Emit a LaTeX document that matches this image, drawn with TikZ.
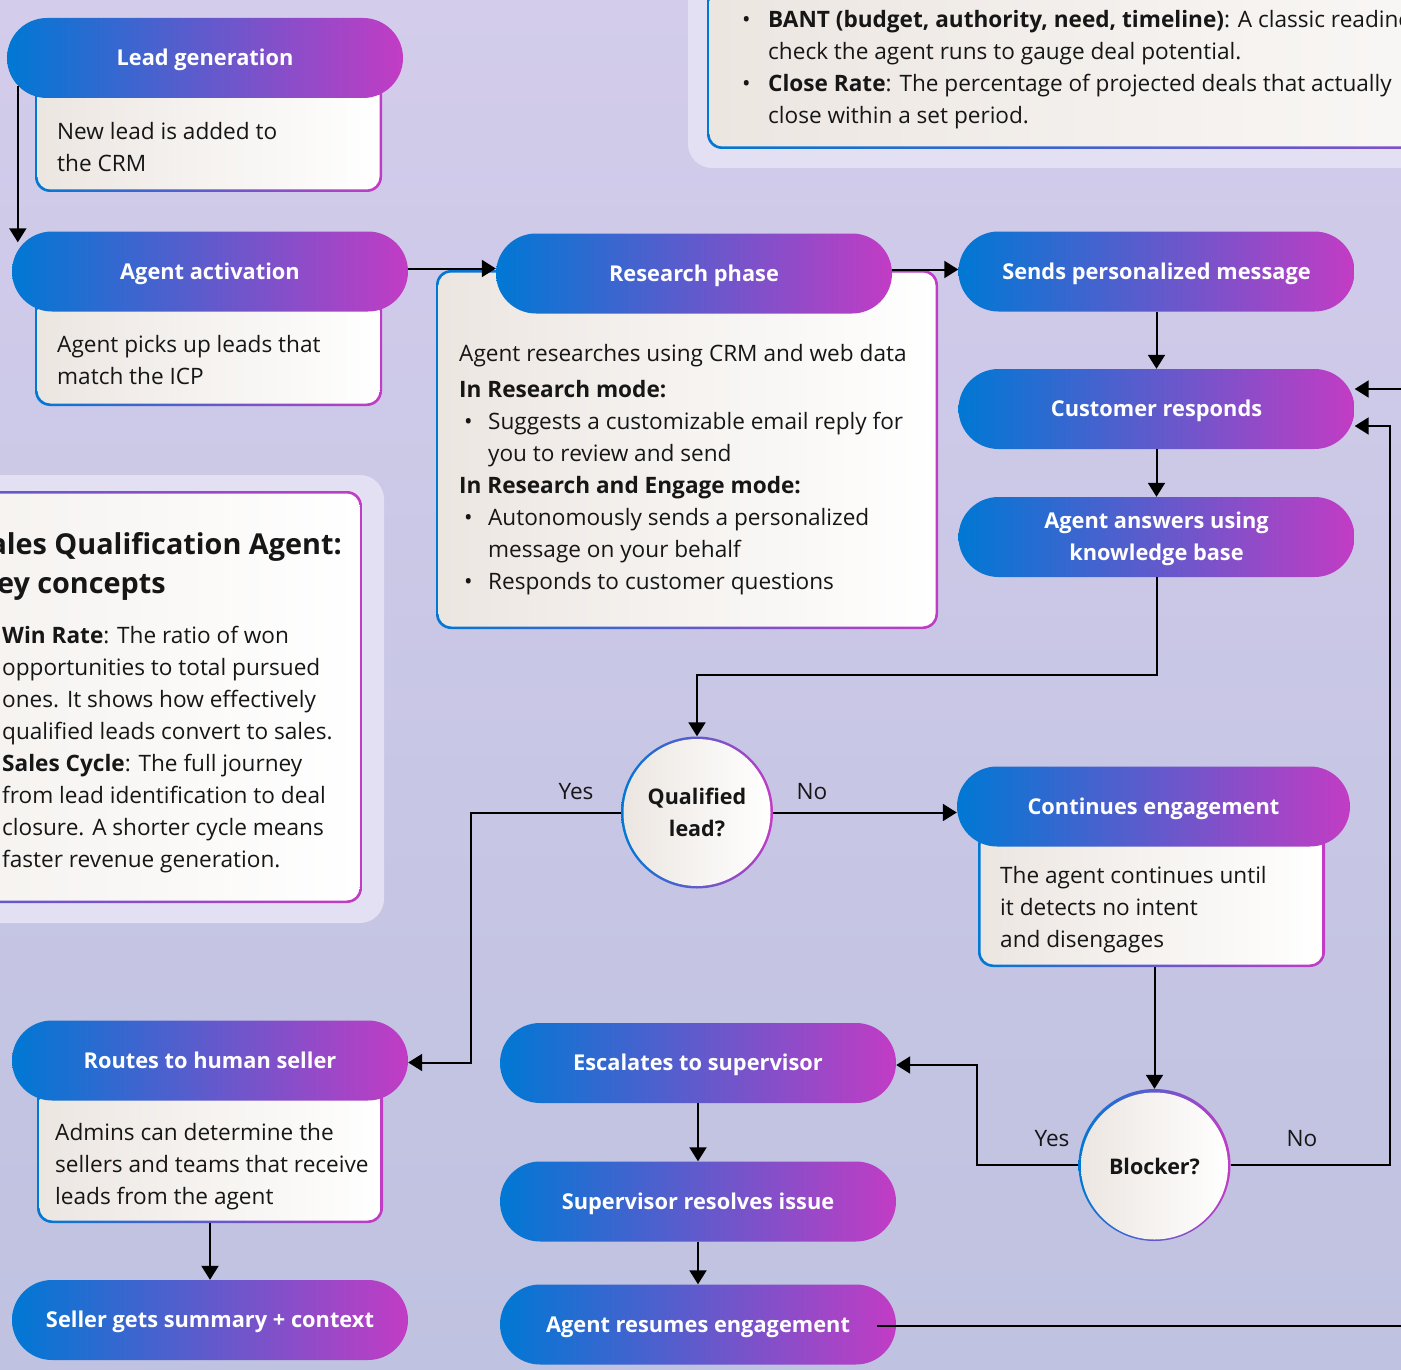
\documentclass[tikz,border=0pt]{standalone}
\usepackage{fontspec}
\setmainfont{Open Sans}
\usetikzlibrary{arrows.meta,calc}
\definecolor{cblue}{HTML}{0078D4}
\definecolor{cmag}{HTML}{C23CC4}
\definecolor{fillL}{HTML}{ECE6E1}
\definecolor{bgT}{HTML}{D3CCEB}
\definecolor{bgB}{HTML}{BFC2E0}
\definecolor{halo}{HTML}{E2E0F2}
\definecolor{ink}{HTML}{161616}
\newcommand\bodyfont{\fontsize{22.6}{32}\selectfont}
\newcommand\pillfont{\fontsize{21.8}{32}\selectfont\bfseries}
\newcommand\headfont{\fontsize{28.8}{40}\selectfont\bfseries}
\newcommand\bodybox[5]{%
  \node[bodyb, minimum width=#4pt, minimum height=#5pt] (#1) at (#2,#3) {};
  \node[bodyf, minimum width={#4pt-5pt}, minimum height={#5pt-5pt}] (#1f) at (#2,#3) {};}
\tikzset{
  pill/.style={rounded corners=40pt, minimum width=396pt, minimum height=80pt, inner sep=0pt,
    left color=cblue, right color=cmag, text=white, font=\pillfont, align=center,
    text height=21pt, text depth=5.4pt},
  bodyb/.style={rounded corners=15pt, inner sep=0pt, left color=cblue, right color=cmag},
  bodyf/.style={rounded corners=13pt, inner sep=0pt, left color=fillL, right color=white},
  ringb/.style={circle, inner sep=0pt, minimum size=152pt, left color=cblue, right color=cmag},
  ringf/.style={circle, inner sep=0pt, minimum size=147pt, left color=fillL, right color=white,
    text=ink, font=\fontsize{21.5}{32}\selectfont\bfseries, align=center},
  txt/.style={inner sep=0pt, align=left, text=ink, font=\bodyfont, anchor=west},
  lbl/.style={inner sep=0pt, text=ink, font=\bodyfont},
  arr/.style={draw=black, line width=2pt, -{Triangle[length=14pt,width=17pt]}},
  conn/.style={draw=black, line width=2pt},
}
\begin{document}
\begin{tikzpicture}[x=1pt,y=-1pt]
\useasboundingbox (0,0) rectangle (1401,1370);
\begin{scope}
\clip (0,0) rectangle (1401,1370);
\shade[top color=bgT, bottom color=bgB] (0,0) rectangle (1401,1370);

% halos
\fill[halo, rounded corners=24pt] (-420,475) rectangle (384,923);
\fill[halo, rounded corners=24pt] (688,-300) rectangle (1800,168);
% key concepts box
\bodybox{kc}{-9}{697}{742}{412}
% top right box
\bodybox{tr}{1243}{-65}{1072}{428}

% body boxes
\bodybox{lgb}{208.5}{136}{347}{112}
\bodybox{aab}{208.5}{350.5}{347}{111}
\bodybox{rpb}{687}{449.5}{502}{359}
\bodybox{ceb}{1151.5}{898.5}{347}{137}
\bodybox{rhb}{210}{1154}{346}{138}

% pills
\node[pill] (lg) at (205,58) {Lead generation};
\node[pill] (aa) at (210,271.5) {Agent activation};
\node[pill] (rp) at (694,273.5) {Research phase};
\node[pill] (sp) at (1156.5,271.5) {Sends personalized message};
\node[pill] (cr) at (1156.5,409) {Customer responds};
\node[pill, text height=53pt] (an) at (1156.5,537) {Agent answers using\\knowledge base};
\node[pill, minimum width=393pt] (ce) at (1153.5,806.5) {Continues engagement};
\node[pill] (rh) at (210,1060.5) {Routes to human seller};
\node[pill] (sg) at (210,1320) {Seller gets summary + context};
\node[pill] (es) at (698,1063) {Escalates to supervisor};
\node[pill] (sr) at (698,1201.5) {Supervisor resolves issue};
\node[pill] (ar) at (698,1324.5) {Agent resumes engagement};

% decisions
\node[ringb] (ql) at (697,812.5) {};
\node[ringf] (qlf) at (697,812.5) {Qualified\\lead?};
\node[ringb] (bl) at (1154.5,1165) {};
\node[ringf] (blf) at (1154.5,1166) {Blocker?};

% texts
\node[txt] (t1) at (57,147) {New lead is added to\\the CRM};
\node[txt] (t2) at (57,360) {Agent picks up leads that\\match the ICP};
\node[txt] (t3) at (459,470) {Agent researches using CRM and web data\\[4pt]
\textbf{In Research mode:}\\
\hspace*{5pt}\makebox[24pt][l]{•}Suggests a customizable email reply for\\
\hspace*{29pt}you to review and send\\
\textbf{In Research and Engage mode:}\\
\hspace*{5pt}\makebox[24pt][l]{•}Autonomously sends a personalized\\
\hspace*{29pt}message on your behalf\\
\hspace*{5pt}\makebox[24pt][l]{•}Responds to customer questions};
\node[txt] (t4) at (1000,910) {The agent continues until\\it detects no intent\\and disengages};
\node[txt] (t5) at (55,1167) {Admins can determine the\\sellers and teams that receive\\leads from the agent};
\node[txt, anchor=base east, font=\headfont] (kh1) at (342,554) {Sales Qualification Agent:};
\node[txt, anchor=base east, font=\headfont] (kh2) at (166,593) {Key concepts};
\node[txt] (t6) at (2,750) {\textbf{Win Rate}: The ratio of won\\opportunities to total pursued\\ones. It shows how effectively\\qualified leads convert to sales.\\\textbf{Sales Cycle}: The full journey\\from lead identification to deal\\closure. A shorter cycle means\\faster revenue generation.};
\node[txt] (t7) at (742,70) {\makebox[26pt][l]{•}\textbf{BANT (budget, authority, need, timeline)}: A classic readiness\\
\hspace*{26pt}check the agent runs to gauge deal potential.\\
\makebox[26pt][l]{•}\textbf{Close Rate}: The percentage of projected deals that actually\\
\hspace*{26pt}close within a set period.};

% labels
\node[lbl] (y1) at (576,792) {Yes};
\node[lbl] (n1) at (812,792) {No};
\node[lbl] (y2) at (1052,1139) {Yes};
\node[lbl] (n2) at (1302,1139) {No};

% coordinates
\coordinate (k1) at (697,675);
\coordinate (k2) at (471,812.5);
\coordinate (k3) at (977,1165);
\coordinate (k4) at (1390,1165);
\coordinate (edgeA) at (1401,389);
\coordinate (edgeB) at (1401,1326);

% connectors
\draw[arr] ([xshift=11pt,yshift=12pt]lg.south west) -- ([xshift=6pt,yshift=-11pt]aa.north west);
\draw[arr] ([yshift=3pt]aa.east) -- ([yshift=3pt]aa.east -| rp.west);
\draw[arr] ([yshift=4pt]rp.east) -- ([yshift=4pt]rp.east -| sp.west);
\draw[arr] (sp.south) -- (cr.north);
\draw[arr] (cr.south) -- (an.north);
\draw[arr] (an.south) |- (k1) -- (ql.north);
\draw[arr] (ql.west) -- (k2) |- ([yshift=-2pt]rh.east);
\draw[arr] (ql.east) -- (ql.east -| ce.west);
\draw[arr] (bl.north |- ceb.south) -- (bl.north);
\draw[arr] (bl.west) -- (k3) |- ([yshift=-2pt]es.east);
\draw[arr] (bl.east) -- (k4) |- ([yshift=-17pt]cr.east);
\draw[arr] (edgeA) -- ([yshift=20pt]cr.east);
\draw[conn] ([xshift=-19pt,yshift=-1.5pt]ar.east) -- (edgeB);
\draw[arr] (rhb.south) -- (sg.north);
\draw[arr] (es.south) -- (sr.north);
\draw[arr] (sr.south) -- (ar.north);
\end{scope}
\end{tikzpicture}
\end{document}
